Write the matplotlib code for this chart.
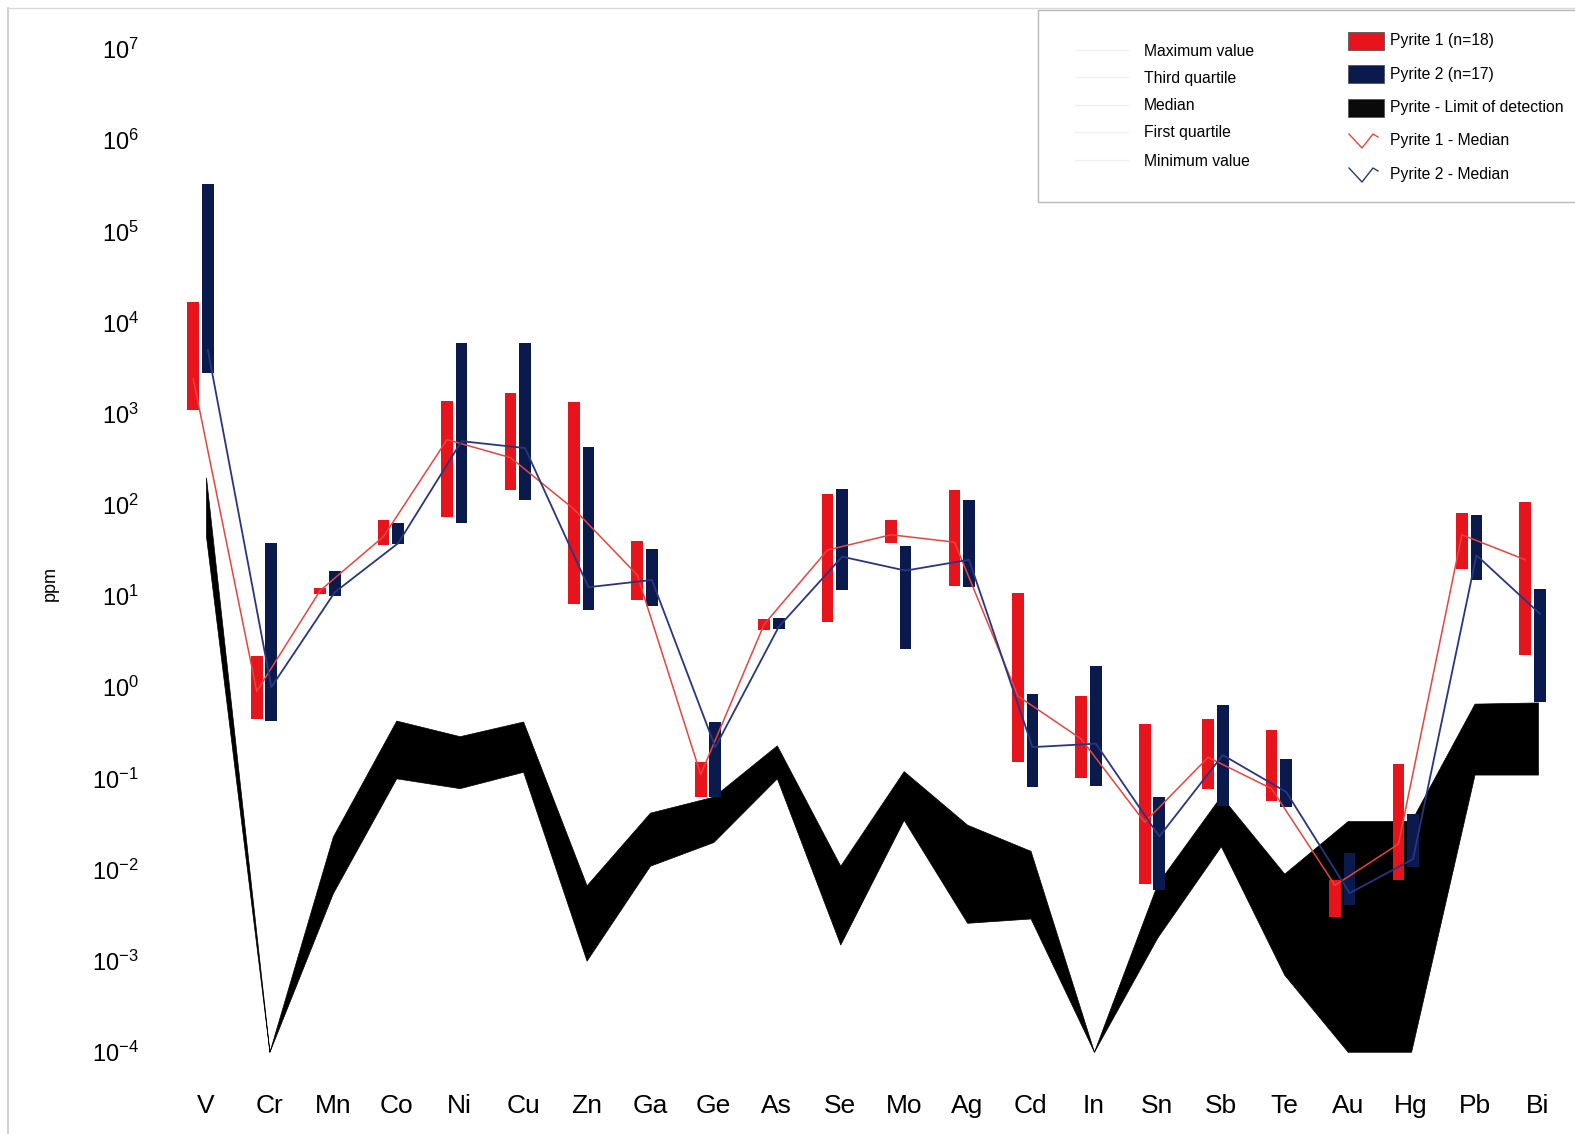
import numpy as np
import matplotlib
matplotlib.use("Agg")
import matplotlib.pyplot as plt
from matplotlib.patches import Rectangle
from matplotlib.lines import Line2D
from matplotlib.ticker import NullLocator

plt.rcParams["font.family"] = ["Liberation Sans", "DejaVu Sans"]
plt.rcParams["mathtext.fontset"] = "custom"
plt.rcParams["mathtext.rm"] = "Liberation Sans"
plt.rcParams["mathtext.it"] = "Liberation Sans:italic"
plt.rcParams["mathtext.bf"] = "Liberation Sans:bold"
plt.rcParams["axes.unicode_minus"] = False

# ---- data (ppm) ----
elements = ["V", "Cr", "Mn", "Co", "Ni", "Cu", "Zn", "Ga", "Ge", "As", "Se",
            "Mo", "Ag", "Cd", "In", "Sn", "Sb", "Te", "Au", "Hg", "Pb", "Bi"]

# Pyrite 1 (n=18): first quartile, third quartile, median
py1_q1 = [1100, 0.45, 10.6, 36, 73, 145, 8.2, 9.1, 0.062, 4.2, 5.2,
          38, 12.8, 0.15, 0.10, 0.0069, 0.077, 0.057, 0.003, 0.0076, 20, 2.25]
py1_q3 = [17000, 2.2, 12.4, 69, 1380, 1700, 1330, 40, 0.15, 5.6, 133,
          69, 145, 10.9, 0.80, 0.39, 0.45, 0.34, 0.0076, 0.145, 81, 108]
py1_med = [2400, 0.9, 11.5, 45, 520, 330, 90, 17, 0.11, 4.9, 32,
           47, 39, 0.8, 0.27, 0.033, 0.17, 0.077, 0.0067, 0.019, 47, 25]

# Pyrite 2 (n=17): first quartile, third quartile, median
py2_q1 = [2800, 0.43, 10, 37, 64, 112, 7.0, 7.7, 0.063, 4.4, 11.7,
          2.6, 12.5, 0.081, 0.082, 0.006, 0.05, 0.049, 0.0041, 0.0107, 15, 0.69]
py2_q3 = [330000, 38, 19, 63, 5900, 5900, 435, 32.5, 0.41, 5.7, 150,
          35.6, 114, 0.84, 1.7, 0.062, 0.63, 0.165, 0.015, 0.041, 78, 11.8]
py2_med = [5000, 1.0, 11, 38, 500, 420, 12.5, 15, 0.22, 4.6, 27,
           19, 25, 0.22, 0.24, 0.023, 0.18, 0.071, 0.0055, 0.013, 28, 6.4]

# Pyrite limit of detection (upper and lower envelope)
lod_high = [200, 1e-4, 0.023, 0.43, 0.29, 0.42, 0.0067, 0.042, 0.063, 0.23, 0.011,
            0.12, 0.031, 0.016, 1e-4, 0.007, 0.064, 0.009, 0.034, 0.034, 0.66, 0.68]
lod_low = [45, 1e-4, 0.0055, 0.10, 0.078, 0.118, 0.001, 0.011, 0.02, 0.10, 0.0015,
           0.035, 0.0026, 0.0029, 1e-4, 0.0018, 0.018, 0.0007, 1e-4, 1e-4, 0.11, 0.11]

y_exponents = list(range(-4, 8))

legend_stats = ["Maximum value", "Third quartile", "Median", "First quartile", "Minimum value"]
legend_series = ["Pyrite 1 (n=18)", "Pyrite 2 (n=17)", "Pyrite - Limit of detection",
                 "Pyrite 1 - Median", "Pyrite 2 - Median"]

# ---- styling ----
RED = "#e8141c"
NAVY = "#0b1a4d"
RED_LINE = "#e5453f"
BLUE_LINE = "#2a3580"

W, H = 1575, 1134
fig = plt.figure(figsize=(W / 100, H / 100), dpi=100)


def fx(px):
    return px / W


def fy(py):
    return 1 - py / H


ax_left, ax_right, ax_top, ax_bottom = 150, 1570, 30, 1070
ax = fig.add_axes([fx(ax_left), fy(ax_bottom), fx(ax_right - ax_left), fy(ax_top) - fy(ax_bottom)])

x = np.arange(len(elements))
off1, off2 = -0.20, 0.03
bw = 0.185

# limit of detection band
ax.fill_between(x, lod_low, lod_high, color="black", linewidth=0.5, edgecolor="black", zorder=1)

# interquartile bars
q1a, q3a = np.array(py1_q1), np.array(py1_q3)
q1b, q3b = np.array(py2_q1), np.array(py2_q3)
ax.bar(x + off1, q3a - q1a, bottom=q1a, width=bw, color=RED, linewidth=0, zorder=2)
ax.bar(x + off2, q3b - q1b, bottom=q1b, width=bw, color=NAVY, linewidth=0, zorder=2)

# median lines
ax.plot(x + off1, py1_med, color=RED_LINE, lw=1.1, zorder=3)
ax.plot(x + off2, py2_med, color=BLUE_LINE, lw=1.3, zorder=3)

ax.set_yscale("log")
ax.set_ylim(10 ** -4.2, 10 ** 7.21)
ax.set_xlim(-0.883, 21.505)
ax.set_yticks([10.0 ** e for e in y_exponents])
ax.set_yticklabels([r"$\mathregular{10^{%d}}$" % e for e in y_exponents])
ax.yaxis.set_minor_locator(NullLocator())
ax.set_xticks(x)
ax.set_xticklabels(elements, fontsize=19)
ax.tick_params(axis="both", length=0)
ax.tick_params(axis="y", labelsize=17, pad=8)
ax.tick_params(axis="x", pad=17)
for s in ax.spines.values():
    s.set_visible(False)
ax.set_ylabel("ppm", fontsize=13)
ax.yaxis.set_label_coords(-0.064, 0.468)

# outer frame lines
fig.add_artist(Line2D([fx(8), fx(8)], [fy(8), fy(H)], color="#c8c8c8", lw=1.2))
fig.add_artist(Line2D([fx(8), fx(W)], [fy(8), fy(8)], color="#d8d8d8", lw=1.0))

# legend panel
fig.add_artist(Rectangle((fx(1038), fy(202)), fx(560), fy(10) - fy(202),
                         facecolor="white", edgecolor="#b8b8b8", lw=1.0, zorder=5))
rows = [41, 74, 107.5, 141, 175]
stat_rows = [51, 78, 106, 133, 161]
for label, yy in zip(legend_stats, stat_rows):
    fig.add_artist(Line2D([fx(1075), fx(1128)], [fy(yy - 1), fy(yy - 1)],
                          color="#f0f0f0", lw=1.0, zorder=6))
    fig.text(fx(1144), fy(yy), label, fontsize=11.3, va="center", ha="left", zorder=6)

for col, yy in zip([RED, NAVY, "#0a0a0a"], rows[:3]):
    fig.add_artist(Rectangle((fx(1348), fy(yy + 9)), fx(36), fy(yy - 9) - fy(yy + 9),
                             facecolor=col, edgecolor="#555555", lw=0.6, zorder=6))
for col, yy in zip([RED_LINE, BLUE_LINE], rows[3:]):
    xs = [1349, 1362, 1373, 1378]
    ys = [yy - 7, yy + 7, yy - 7, yy - 4]
    fig.add_artist(Line2D([fx(v) for v in xs], [fy(v) for v in ys], color=col, lw=1.0, zorder=6))
for label, yy in zip(legend_series, rows):
    fig.text(fx(1390), fy(yy), label, fontsize=11.3, va="center", ha="left", zorder=6)

fig.savefig("out.png", dpi=100, facecolor="white")
